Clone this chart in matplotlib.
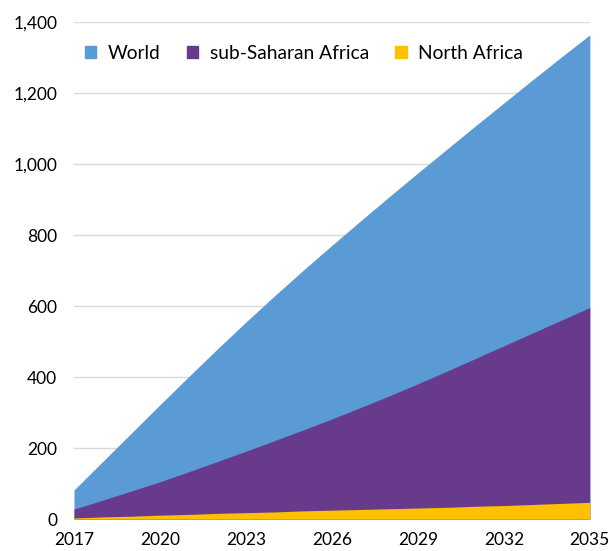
import matplotlib.pyplot as plt
from matplotlib.patches import Patch

anos = list(range(2017, 2036))
mundo = [82, 162, 242, 322, 401, 479, 555, 629, 701, 771, 840, 908, 975,
         1041, 1107, 1172, 1237, 1301, 1364]
africa_subsaariana = [28, 53, 79, 105, 133, 162, 191, 221, 251, 282, 314, 347,
                      381, 416, 452, 488, 524, 560, 596]
africa_norte = [3, 6, 8, 11, 13, 16, 18, 20, 23, 25, 27, 29, 31, 33, 36, 38,
                41, 44, 47]

rotulos_x = ['2017', '2020', '2023', '2026', '2029', '2032', '2035']
series = [('World', mundo, '#5B9BD5'),
          ('sub-Saharan Africa', africa_subsaariana, '#673A8C'),
          ('North Africa', africa_norte, '#FFC000')]

plt.rcParams['font.family'] = ['Lato', 'DejaVu Sans']

fig = plt.figure(figsize=(6.09, 5.51), dpi=100)
ax = fig.add_axes([0.1215, 0.058, 0.847, 0.902])

for nome, valores, cor in series:
    ax.fill_between(anos, 0, valores, color=cor, linewidth=0, zorder=2)

ax.set_xlim(2017, 2035)
ax.set_ylim(0, 1400)
ax.set_yticks(range(0, 1401, 200))
ax.set_yticklabels([f'{v:,}' for v in range(0, 1401, 200)])
ax.set_xticks([int(r) for r in rotulos_x])
ax.set_xticklabels(rotulos_x)
ax.grid(axis='y', color='#D9D9D9', linewidth=1, zorder=0)
ax.tick_params(axis='both', length=0, labelsize=12.5, colors='black')
ax.tick_params(axis='y', pad=12)
ax.tick_params(axis='x', pad=9)
for s in ax.spines.values():
    s.set_visible(False)

handles = [Patch(color=cor, label=nome) for nome, _, cor in series]
ax.legend(handles=handles, loc='upper left', bbox_to_anchor=(0.0, 0.975),
          ncol=3, frameon=False, fontsize=13.8, handlelength=0.62,
          handleheight=0.62, handletextpad=0.6, columnspacing=1.35,
          borderaxespad=0.15)

fig.savefig('out.png', dpi=100)
